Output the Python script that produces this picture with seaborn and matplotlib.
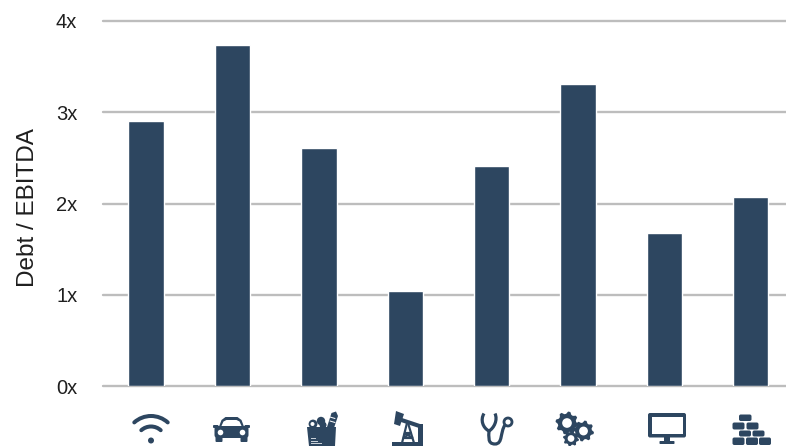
import numpy as np
import pandas as pd
import matplotlib
matplotlib.use("Agg")
import matplotlib.pyplot as plt
from matplotlib.patches import Arc, Circle, FancyBboxPatch, Polygon, PathPatch, Rectangle
from matplotlib.path import Path
import seaborn as sns

sectors = ["Telecom", "Autos", "Food Retail", "Energy", "Healthcare", "Industrials", "Technology", "Materials"]
debt_ebitda = [2.90, 3.74, 2.61, 1.04, 2.41, 3.31, 1.68, 2.07]
y_ticks = [0, 1, 2, 3, 4]
y_tick_labels = ["0x", "1x", "2x", "3x", "4x"]
y_title = "Debt / EBITDA"

NAVY = "#2d4660"
GRID = "#bdbdbd"
TEXT = "#1f1f1f"
W, H = 786, 446

sns.set_theme(style="white")
plt.rcParams["font.family"] = ["Liberation Sans", "DejaVu Sans"]

fig = plt.figure(figsize=(W / 100, H / 100), dpi=100, facecolor="white")
ax = fig.add_axes([103 / W, (H - 386) / H, (W - 103) / W, 365 / H])

df = pd.DataFrame({"sector": sectors, "value": debt_ebitda})
sns.barplot(data=df, x="sector", y="value", color=NAVY, saturation=1, width=0.41, ax=ax, zorder=3)

ax.set_xlim(-0.5, 7.41)
ax.set_ylim(0, 4)
ax.set_yticks(y_ticks, y_tick_labels)
ax.set_xticks([])
ax.set_xlabel("")
ax.set_ylabel(y_title, fontsize=17.5, color=TEXT)
ax.yaxis.set_label_coords(-64.5 / (W - 103), 0.49)
ax.tick_params(axis="y", length=0, pad=18.5, labelsize=14.5, labelcolor=TEXT)
ax.grid(axis="y", color=GRID, lw=1.7, zorder=0)
ax.set_axisbelow(True)
for s in ax.spines.values():
    s.set_visible(False)
for t in ax.get_ygridlines():
    t.set_clip_on(False)

# Sector pictograms in an overlay measured in pixels
ov = fig.add_axes([0, 0, 1, 1], facecolor="none")
ov.set_xlim(0, W)
ov.set_ylim(H, 0)
ov.axis("off")
PX = 0.72


def rrect(x0, y0, x1, y1, r=1.5, fc=NAVY):
    ov.add_patch(FancyBboxPatch((x0 + r, y0 + r), x1 - x0 - 2 * r, y1 - y0 - 2 * r,
                                boxstyle=f"round,pad={r},rounding_size={r}", fc=fc, ec="none"))


def wifi(cx, cy):
    for r, half in [(25, 42), (14.5, 42)]:
        ov.add_patch(Arc((cx, cy), 2 * r, 2 * r, theta1=270 - half, theta2=270 + half,
                         color=NAVY, lw=4 * PX, capstyle="round"))
    ov.add_patch(Circle((cx, cy - 0.5), 3, fc=NAVY, ec="none"))


def car(cx):
    ov.add_patch(Polygon([(cx - 13, 428), (cx - 10, 420), (cx - 6, 417), (cx + 6, 417),
                          (cx + 10, 420), (cx + 13, 428)], fc=NAVY, ec="none"))
    ov.add_patch(Polygon([(cx - 10.5, 427), (cx - 8, 421.5), (cx - 5, 420), (cx + 5, 420),
                          (cx + 8, 421.5), (cx + 10.5, 427)], fc="white", ec="none"))
    rrect(cx - 17, 426, cx + 17, 438, 3)
    rrect(cx - 18.5, 425, cx - 13, 428, 1)
    rrect(cx + 13, 425, cx + 18.5, 428, 1)
    rrect(cx - 16, 436, cx - 9, 442, 1)
    rrect(cx + 9, 436, cx + 16, 442, 1)
    ov.add_patch(Circle((cx - 11, 432.5), 2.8, fc="white", ec="none"))
    ov.add_patch(Circle((cx + 11, 432.5), 2.8, fc="white", ec="none"))


def grocery():
    ov.add_patch(Polygon([(327, 427), (331.5, 413), (336, 411.5), (338, 416), (334, 428)],
                         fc=NAVY, ec="none"))
    for y0 in (417, 421):
        ov.plot([330, 335], [y0, y0 + 1.5], color="white", lw=1 * PX)
    ov.add_patch(Circle((321, 421), 4.2, fc=NAVY, ec="none"))
    ov.add_patch(Circle((313, 424), 4.4, fc=NAVY, ec="none"))
    ov.add_patch(Circle((312.5, 424), 2, fc="white", ec="none"))
    ov.add_patch(Circle((323, 425), 3.5, fc=NAVY, ec="none"))
    ov.add_patch(Polygon([(307, 427), (336, 427), (335, 446), (309, 446)], fc=NAVY, ec="none"))
    for y, x1 in [(438, 316), (441, 318), (443.5, 322)]:
        ov.add_patch(Rectangle((311, y - 0.5), x1 - 311, 1.2, fc="#c8d0d8", ec="none"))


def pump():
    ov.add_patch(Rectangle((392, 442), 31, 4, fc=NAVY, ec="none"))
    ov.add_patch(Polygon([(396, 411), (404, 414), (400, 426), (394, 424)], fc=NAVY, ec="none"))
    ov.add_patch(Polygon([(399, 417), (420, 424), (419, 428), (398, 421)], fc=NAVY, ec="none"))
    ov.add_patch(Rectangle((418, 424), 4.5, 18.5, fc=NAVY, ec="none"))
    segs = [((407, 423), (402, 443)), ((408, 423), (414, 443)), ((404, 433), (412, 433)),
            ((403, 438), (413, 438)), ((404, 433), (413, 438)), ((411, 433), (403, 438))]
    for a, b in segs:
        ov.plot([a[0], b[0]], [a[1], b[1]], color=NAVY, lw=2.2 * PX, solid_capstyle="butt")


def stethoscope():
    codes = [Path.MOVETO, Path.CURVE4, Path.CURVE4, Path.CURVE4, Path.CURVE4, Path.CURVE4, Path.CURVE4]
    verts = [(484, 413.5), (480, 420), (483, 428), (489, 431),
             (494, 428), (498, 420), (495, 413.5)]
    ov.add_patch(PathPatch(Path(verts, codes), fc="none", ec=NAVY, lw=3.2 * PX))
    verts = [(489, 431), (489, 436), (487, 444), (495, 444), (503, 444), (500, 432), (505, 425)]
    ov.add_patch(PathPatch(Path(verts, codes), fc="none", ec=NAVY, lw=3.2 * PX))
    ov.add_patch(Circle((508, 422), 4, fc="white", ec=NAVY, lw=2.8 * PX))


def gear(cx, cy, r, teeth=8):
    n = teeth * 4
    ang = np.linspace(0, 2 * np.pi, n, endpoint=False) + np.pi / n
    rad = np.tile([r, r, r * 0.8, r * 0.8], teeth)
    ov.add_patch(Polygon(np.c_[cx + rad * np.cos(ang), cy + rad * np.sin(ang)], fc=NAVY, ec="none"))
    ov.add_patch(Circle((cx, cy), r * 0.42, fc="white", ec="none"))


def monitor():
    rrect(648, 413, 686, 437.5, 2)
    ov.add_patch(Rectangle((651.5, 416.5), 31, 17.5, fc="white", ec="none"))
    ov.add_patch(Rectangle((664, 437), 6, 4, fc=NAVY, ec="none"))
    rrect(659.5, 441, 674.5, 444, 0.8)


def bricks():
    rows = [(414.5, 421, [(739, 751.5)]),
            (422.5, 429.5, [(732.5, 744.5), (746.5, 758.5)]),
            (430.5, 436.5, [(739, 751), (752.5, 764.5)]),
            (437.5, 445, [(732.5, 744.5), (746, 758), (759, 771)])]
    for y0, y1, xs in rows:
        for x0, x1 in xs:
            rrect(x0, y0, x1, y1, 1.8)


wifi(151, 441)
car(231.5)
grocery()
pump()
stethoscope()
gear(567, 423, 11.5)
gear(583.5, 431, 10.5)
gear(571, 438.5, 8)
monitor()
bricks()

fig.savefig("out.png", dpi=100, facecolor="white")
